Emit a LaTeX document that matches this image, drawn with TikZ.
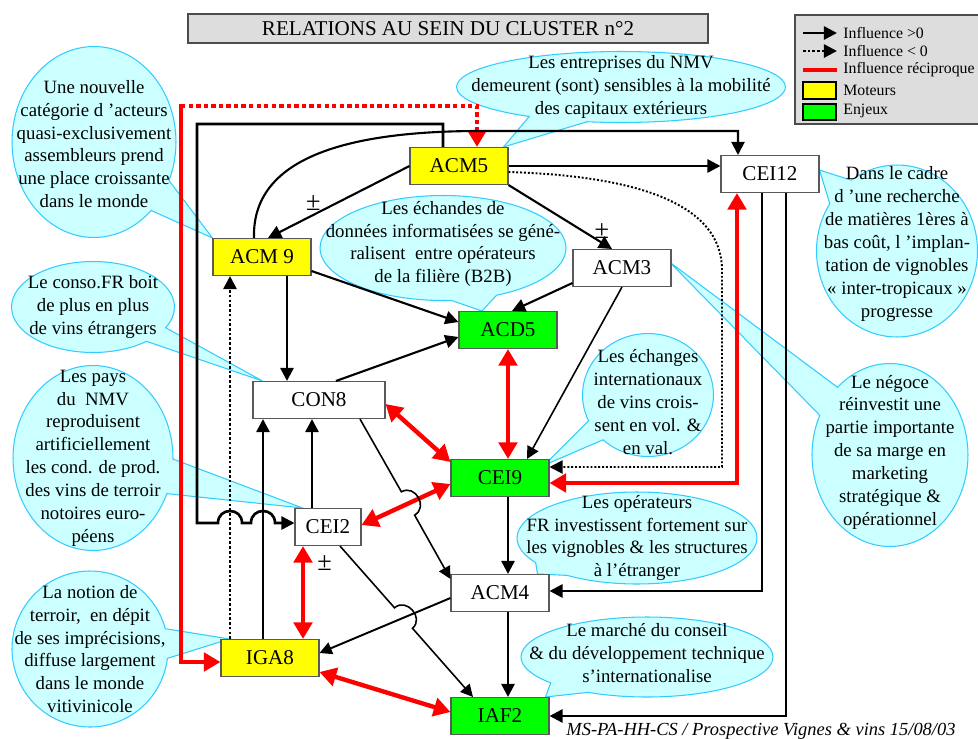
\documentclass[tikz,border=0pt]{standalone}
\usepackage{fontspec}
\setmainfont{Liberation Serif}
\usetikzlibrary{arrows.meta,calc,shapes.callouts,backgrounds}
\definecolor{jaune}{RGB}{255,255,0}
\definecolor{vertE}{RGB}{0,255,0}
\definecolor{rougeR}{RGB}{255,0,0}
\definecolor{cyanF}{RGB}{204,255,255}
\definecolor{cyanB}{RGB}{51,204,255}
\definecolor{grisF}{RGB}{221,221,221}
\tikzset{
	boite/.style={draw=black!65, line width=0.6pt, fill=white, minimum width=1.96cm, minimum height=0.74cm, inner sep=0pt, font=\fontsize{12}{14}\selectfont},
	moteur/.style={boite, fill=jaune},
	enjeu/.style={boite, fill=vertE},
	fleche/.style={line width=1.5pt, -{Triangle[length=7.5pt,width=7.5pt]}},
	fine/.style={line width=0.9pt, -{Triangle[length=7pt,width=7pt]}},
	pointille/.style={fleche, dash pattern=on 1.5pt off 1.2pt},
	lienR/.style={draw=rougeR, line width=2.5pt, -{Triangle[length=9.5pt,width=10.5pt]}},
	reci/.style={lienR, {Triangle[length=9.5pt,width=10.5pt]}-{Triangle[length=9.5pt,width=10.5pt]}},
	bulle/.style={ellipse callout, draw=cyanB, fill=cyanF, line width=0.6pt, inner sep=0pt, callout pointer arc=22},
	bulletexte/.style={align=center, inner sep=0pt, font=\fontsize{10.7}{13}\selectfont},
	signe/.style={inner sep=0pt, font=\fontsize{15}{15}\selectfont},
	legtexte/.style={anchor=west, inner sep=0pt, font=\fontsize{9}{10}\selectfont}
}
\begin{document}
\begin{tikzpicture}[x=0.02cm,y=-0.02cm]
	\useasboundingbox (0,0) rectangle (978,738);
	\node[draw=black!70, line width=1pt, fill=grisF, minimum width=10.4cm, minimum height=0.58cm, inner sep=0pt, font=\fontsize{12}{14}\selectfont] (titre) at (448,28.5) {RELATIONS AU SEIN DU CLUSTER n°2};
	\draw[draw=black!70, line width=1pt, fill=grisF] (795,15) rectangle (995,124);
	\draw[fleche] (803,33) -- (837,33);
	\node[legtexte] (leg1) at (843,33) {Influence >0};
	\draw[pointille] (803,51) -- (837,51);
	\node[legtexte] (leg2) at (843,51) {Influence < 0};
	\draw[draw=rougeR, line width=2.5pt] (803,70) -- (837,70);
	\node[legtexte] (leg3) at (843,70) {Influence réciproque};
	\draw[fill=jaune, line width=0.6pt] (803,82) rectangle (836,99);
	\node[legtexte] (leg4) at (843,90) {Moteurs};
	\draw[fill=vertE, line width=0.6pt] (803,104) rectangle (836,120);
	\node[legtexte] (leg5) at (843,111) {Enjeux};

	\node[moteur] (acm5) at (459,166) {ACM5};
	\node[moteur] (acm9) at (262,257) {ACM 9};
	\node[boite] (cei12) at (770,174) {CEI12};
	\node[boite] (acm3) at (622,268) {ACM3};
	\node[enjeu] (acd5) at (508,330) {ACD5};
	\node[boite, minimum width=2.64cm] (con8) at (319,400) {CON8};
	\node[enjeu] (cei9) at (500,478) {CEI9};
	\node[boite, minimum width=1.32cm] (cei2) at (328,527) {CEI2};
	\node[boite] (acm4) at (500,593) {ACM4};
	\node[moteur] (iga8) at (270,658) {IGA8};
	\node[enjeu] (iaf2) at (500,716) {IAF2};

	\begin{pgfonlayer}{background}
		\fill[white] (0,0) rectangle (978,738);
		\node[bulle, minimum width=3.28cm, minimum height=3.82cm, callout absolute pointer={(acm9.north west)}] (bA) at (94,142) {};
		\node[bulletexte] (tA) at ($(bA.center)+(0,2)$) {Une nouvelle\\catégorie d ’acteurs\\quasi-exclusivement\\assembleurs prend\\une place croissante\\dans le monde};
		\node[bulle, minimum width=6.58cm, minimum height=1.42cm, callout absolute pointer={($(acm5.north east)+(-5,0)$)}] (bB) at (621,87) {};
		\node[bulletexte] (tB) at (bB.center) {Les entreprises du NMV\\demeurent (sont) sensibles à la mobilité\\des capitaux extérieurs};
		\node[bulle, minimum width=4.92cm, minimum height=2.1cm, callout absolute pointer={($(acd5.north)+(-26,0)$)}] (bC) at (443,248) {};
		\node[bulletexte] (tC) at ($(bC.center)+(0,-4)$) {Les échandes de\\données informatisées se géné-\\ralisent\ \ entre opérateurs\\de la filière (B2B)};
		\node[bulle, minimum width=3.26cm, minimum height=1.82cm, callout absolute pointer={($(con8.north west)+(10,0)$)}] (bD) at (93,307) {};
		\node[bulletexte] (tD) at (bD.center) {Le conso.FR boit\\de plus en plus\\de vins étrangers};
		\node[bulle, minimum width=3.2cm, minimum height=3.7cm, callout absolute pointer={($(cei2.north west)+(8,0)$)}] (bE) at (93,458) {};
		\node[bulletexte] (tE) at (bE.center) {Les pays\\du\ \ NMV\\reproduisent\\artificiellement\\les cond. de prod.\\des vins de terroir\\notoires euro-\\péens};
		\node[bulle, minimum width=3.12cm, minimum height=3.12cm, callout absolute pointer={($(iga8.north west)+(9,0)$)}] (bF) at (90,649) {};
		\node[bulletexte] (tF) at (bF.center) {La notion de\\terroir,\ \ en dépit\\de ses imprécisions,\\diffuse largement\\dans le monde\\vitivinicole};
		\node[bulle, minimum width=3.22cm, minimum height=3.44cm, callout absolute pointer={($(cei12.east)+(0,-4)$)}] (bG) at (897,251) {};
		\node[bulletexte] (tG) at ($(bG.center)+(0,-7)$) {Dans le cadre\\d ’une recherche\\de matières 1ères à\\bas coût, l ’implan-\\tation de vignobles\\« inter-tropicaux »\\progresse};
		\node[bulle, minimum width=3.12cm, minimum height=3.66cm, callout absolute pointer={($(acm3.east)+(-2,-6)$)}] (bH) at (890,455) {};
		\node[bulletexte] (tH) at ($(bH.center)+(0,-3)$) {Le négoce\\réinvestit une\\partie importante\\de sa marge en\\marketing\\stratégique \&\\opérationnel};
		\node[bulle, minimum width=2.62cm, minimum height=2.46cm, callout absolute pointer={($(cei9.north east)+(-5,6)$)}] (bI) at (648,395) {};
		\node[bulletexte] (tI) at ($(bI.center)+(0,7)$) {Les échanges\\internationaux\\de vins crois-\\sent en vol. \&\\en val.};
		\node[bulle, minimum width=4.8cm, minimum height=1.84cm, callout absolute pointer={($(acm4.north east)+(-12,0)$)}] (bJ) at (637,538) {};
		\node[bulletexte] (tJ) at (bJ.center) {Les opérateurs\\FR investissent fortement sur\\les vignobles \& les structures\\à l’étranger};
		\node[bulle, minimum width=5.04cm, minimum height=1.6cm, callout absolute pointer={($(iaf2.north east)+(-4,0)$)}] (bK) at (647,657) {};
		\node[bulletexte] (tK) at ($(bK.center)+(0,-4)$) {Le marché du conseil\\\& du développement technique\\s’internationalise};
	\end{pgfonlayer}

	\coordinate (coinR) at (181,106);
	\draw[lienR, dash pattern=on 2.5pt off 1.8pt] (coinR) -| ($(acm5.north)+(18,0)$);
	\draw[lienR, line cap=rect] (coinR) |- ($(iga8.west)+(0,4)$);
	\draw[fleche] ($(acm5.north)+(-16,0)$) |- (197,124) -- (197,523) -- (218,523) .. controls (218,507) and (242,507) .. (242,523) -- (251,523) .. controls (251,507) and (275,507) .. (275,523) -- ($(cei2.west)+(0,-4)$);
	\draw[fleche, line width=1.2pt] ($(acm9.north)+(-8,0)$) .. controls (252,165) and (330,131) .. (480,131) -| ($(cei12.north)+(-32,0)$);
	\draw[fleche] (acm5.east) -- (acm5.east -| cei12.west);
	\draw[fleche, line width=1.2pt] (acm5.south east) -- ($(acm3.north)+(-10,0)$) node[pos=0.72, right=6pt, signe] {±};
	\draw[fleche, line width=1.2pt] (acm5.west) -- ($(acm9.north)+(6,0)$) node[pos=0.68, above=2pt, signe] {±};
	\draw[pointille, line width=1.1pt, dash pattern=on 1.1pt off 1.1pt] ($(acm5.east)+(0,6)$) .. controls (640,176) and (722,205) .. (722,270) |- ($(cei9.east)+(0,-11)$);
	\draw[reci] ($(cei12.south)+(-33,0)$) |- ($(cei9.east)+(0,5)$);
	\draw[fleche] ($(cei12.south)+(-8,0)$) |- ($(acm4.east)+(0,-2)$);
	\draw[fleche] ($(cei12.south)+(16,0)$) |- (iaf2.east);
	\draw[fleche] ($(acm9.south)+(25,0)$) -- ($(con8.north)+(-32,0)$);
	\draw[fleche, line width=1.2pt] ($(acm9.east)+(0,14)$) -- ($(acd5.west)+(0,-8)$);
	\draw[fleche, line width=1.2pt] ($(con8.north)+(17,0)$) -- ($(acd5.west)+(0,7)$);
	\draw[fleche, line width=1.2pt] ($(acm3.west)+(0,15)$) -- ($(acd5.north)+(4,0)$);
	\draw[fine] (acm3.south) -- ($(cei9.north)+(27,0)$);
	\draw[reci] (acd5.south) -- ($(cei9.north)+(8,0)$);
	\draw[reci] ($(con8.east)+(0,4)$) -- ($(cei9.west)+(0,-16)$);
	\draw[reci] ($(cei2.east)+(0,-2)$) -- ($(cei9.west)+(0,6)$);
	\draw[fine] ($(con8.south)+(41,0)$) -- (401.4,491.8) .. controls (415.3,483.9) and (428.5,507.2) .. (414.6,515.1) -- ($(acm4.north west)+(0,5)$);
	\draw[fine] ($(cei2.south)+(12,0)$) -- (394.5,607.8) .. controls (406.5,597.3) and (424.5,617.8) .. (412.5,628.3) -- ($(iaf2.north)+(-27,0)$);
	\draw[fine, line width=1.1pt] ($(acm4.west)+(0,5)$) -- ($(iga8.east)+(0,-5)$);
	\draw[fleche] ($(cei9.south)+(8,0)$) -- ($(acm4.north)+(8,0)$);
	\draw[fleche] ($(acm4.south)+(8,0)$) -- ($(iaf2.north)+(8,0)$);
	\draw[reci] ($(iga8.east)+(0,14)$) -- ($(iaf2.west)+(0,-4)$);
	\draw[fleche] ($(iga8.north)+(-7,0)$) -- ($(con8.south)+(-56,0)$);
	\draw[fleche] ($(cei2.north)+(-16,0)$) -- ($(con8.south)+(-7,0)$);
	\draw[pointille] ($(iga8.north)+(-40,0)$) -- ($(acm9.south)+(-32,0)$);
	\draw[reci] ($(iga8.north)+(33,0)$) -- ($(cei2.south)+(-25,0)$) node[pos=0.82, right=7pt, signe] {±};

	\node[anchor=base, inner sep=0pt, font=\fontsize{10.5}{12}\selectfont\itshape] (pied) at (761,735) {MS-PA-HH-CS / Prospective Vignes \& vins 15/08/03};
\end{tikzpicture}
\end{document}
